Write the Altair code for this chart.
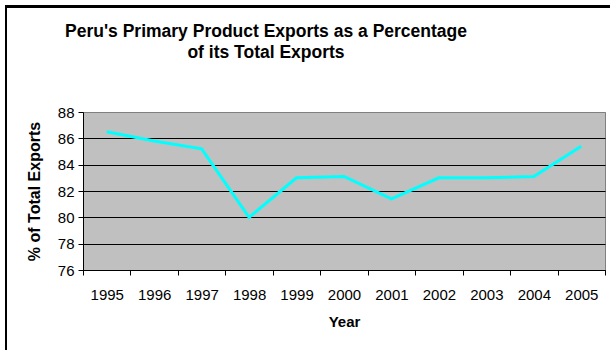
import altair as alt
import pandas as pd

years = ["1995", "1996", "1997", "1998", "1999", "2000", "2001", "2002", "2003", "2004", "2005"]
share = [86.5, 85.8, 85.2, 80.0, 83.0, 83.1, 81.4, 83.0, 83.0, 83.1, 85.4]
y_ticks = [76, 78, 80, 82, 84, 86, 88]

df = pd.DataFrame({"Year": years, "Share": share})

FONT = "Liberation Sans"

base = alt.Chart(df)

frame_left = base.mark_rule(stroke="black", strokeWidth=2).encode(
    x=alt.value(-77), y=alt.value(-105.5), y2=alt.value(260)
)
frame_top = base.mark_rule(stroke="black", strokeWidth=2).encode(
    x=alt.value(-78), x2=alt.value(560), y=alt.value(-105.5)
)

line = base.mark_line(color="#00FFFF", strokeWidth=3).encode(
    x=alt.X(
        "Year:O",
        sort=years,
        scale=alt.Scale(type="band", paddingInner=0, paddingOuter=0),
        axis=alt.Axis(
            title="Year",
            labelAngle=0,
            tickBand="extent",
            tickSize=5,
            tickColor="black",
            domainColor="black",
            labelFont=FONT,
            labelFontSize=15,
            labelColor="black",
            labelPadding=12,
            titleFont=FONT,
            titleFontSize=15,
            titleFontWeight="bold",
            titleColor="black",
            titlePadding=12,
            grid=False,
        ),
    ),
    y=alt.Y(
        "Share:Q",
        scale=alt.Scale(domain=[76, 88], nice=False, zero=False),
        axis=alt.Axis(
            title="% of Total Exports",
            values=y_ticks,
            tickSize=5,
            tickColor="black",
            domainColor="black",
            grid=True,
            gridColor={"condition": {"test": "datum.value === 88", "value": "#808080"}, "value": "black"},
            gridWidth=1,
            labelFont=FONT,
            labelFontSize=15,
            labelColor="black",
            labelPadding=4,
            titleFont=FONT,
            titleFontSize=16,
            titleFontWeight="bold",
            titleColor="black",
            titlePadding=15,
        ),
    ),
)

chart = (
    alt.layer(frame_left, frame_top, line)
    .properties(
        width=522,
        height=158,
        background="white",
        title=alt.TitleParams(
            text=["Peru's Primary Product Exports as a Percentage", "of its Total Exports"],
            font=FONT,
            fontSize=17.5,
            fontWeight="bold",
            color="black",
            anchor="middle",
            dx=-78,
            dy=56,
            lineHeight=21,
            offset=0,
        ),
        autosize=alt.AutoSizeParams(type="none"),
        padding={"left": 83, "top": 112, "right": 5, "bottom": 80},
    )
    .configure_view(fill="#C0C0C0", stroke="#808080", strokeWidth=1)
)

chart.save("out.html", embed_options={"renderer": "svg", "actions": False})
